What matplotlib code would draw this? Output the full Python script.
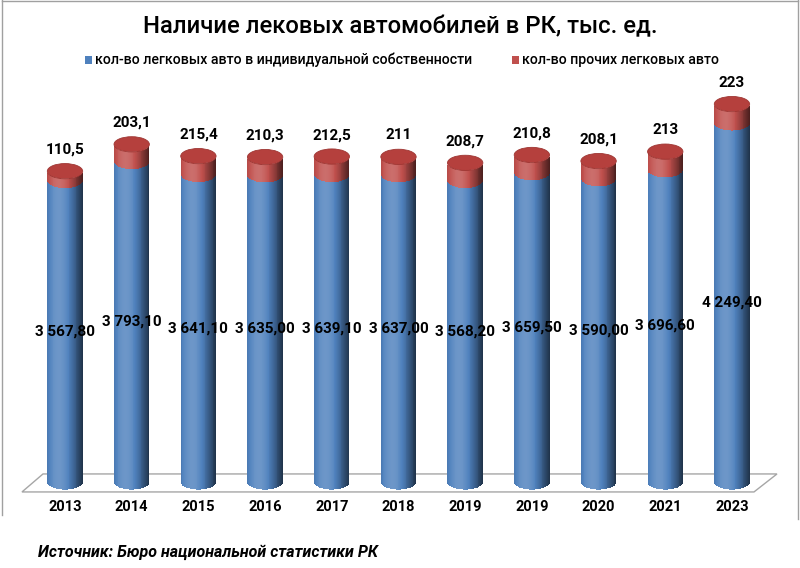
import numpy as np
import matplotlib.pyplot as plt
from matplotlib.patches import Ellipse, Polygon, Rectangle
from matplotlib.lines import Line2D
from matplotlib.colors import to_rgb

# data
years = ['2013', '2014', '2015', '2016', '2017', '2018', '2019', '2019', '2020', '2021', '2023']
individual = [3567.80, 3793.10, 3641.10, 3635.00, 3639.10, 3637.00, 3568.20, 3659.50, 3590.00, 3696.60, 4249.40]
other = [110.5, 203.1, 215.4, 210.3, 212.5, 211, 208.7, 210.8, 208.1, 213, 223]

title = 'Наличие лековых автомобилей в РК, тыс. ед.'
legend_labels = ['кол-во легковых авто в индивидуальной собственности', 'кол-во прочих легковых авто']
source = 'Источник: Бюро национальной статистики РК'

BLUE = '#4F81BD'
RED = '#C0504D'
plt.rcParams['font.family'] = ['Roboto', 'DejaVu Sans']


def shade(color, f):
    c = np.array(to_rgb(color))
    if f >= 1:
        return tuple(c + (1 - c) * (f - 1))
    return tuple(c * f)


def cylinder_part(ax, x, bottom, height, color, w=0.53, eh=180, n=40):
    edges = np.linspace(-1, 1, n + 1)
    mids = (edges[:-1] + edges[1:]) / 2
    for t, l, r in zip(mids, edges[:-1], edges[1:]):
        sag = eh / 2 * np.sqrt(max(0.0, 1 - t * t))
        f = 0.62 + 0.55 * np.cos((t + 0.35) * np.pi / 2.1)
        ax.bar(x + t * w / 2, height, width=(r - l) * w / 2 * 1.05,
               bottom=bottom - sag, color=shade(color, f), linewidth=0)


fig = plt.figure(figsize=(8, 5.68), dpi=100)
ax = fig.add_axes([0, 0, 1, 1])
ax.set_xlim(-0.9745, 11.02)
ax.set_ylim(-1018, 5704)
ax.axis('off')

xs = np.arange(len(years))

# floor
floor = Polygon([(xs[0] - 0.645, -118), (xs[-1] + 0.33, -118),
                 (xs[-1] + 0.675, 95), (xs[0] - 0.33, 95)],
                closed=True, facecolor='white', edgecolor='#A6A6A6', lw=1)
ax.add_patch(floor)

eh = 180
w = 0.53
for x, yr, b, r in zip(xs, years, individual, other):
    cylinder_part(ax, x, 0, b, BLUE, w, eh)
    cylinder_part(ax, x, b, r, RED, w, eh)
    ax.add_patch(Ellipse((x, b + r), w, eh, facecolor='#B5403D',
                         edgecolor='#9E3633', lw=0.6, zorder=3))
    ax.text(x, b / 2, f'{b:,.2f}'.replace(',', ' ').replace('.', ','),
            ha='center', va='center', fontsize=11, fontweight='bold', zorder=4)
    ax.text(x, b + r + eh / 2 + 80, f'{r:g}'.replace('.', ','),
            ha='center', va='bottom', fontsize=11, fontweight='bold', zorder=4)
    ax.text(x, -296, yr, ha='center', va='center', fontsize=10.5, fontweight='bold')

fig.text(0.5, 0.952, title, ha='center', va='center', fontsize=17.2, fontweight='medium')

# legend
fig.patches.append(Rectangle((0.106, 0.888), 0.009, 0.014, transform=fig.transFigure,
                             facecolor=BLUE, edgecolor='none'))
fig.text(0.119, 0.895, legend_labels[0], ha='left', va='center', fontsize=10.2, fontweight='medium')
fig.patches.append(Rectangle((0.640, 0.888), 0.009, 0.014, transform=fig.transFigure,
                             facecolor=RED, edgecolor='none'))
fig.text(0.653, 0.895, legend_labels[1], ha='left', va='center', fontsize=10.2, fontweight='medium')

fig.text(0.047, 0.028, source, ha='left', va='center', fontsize=11.5,
         fontweight='bold', fontstyle='italic')

# chart border (open at the bottom)
for xd, yd in [((0.002, 0.002), (0.094, 1.0)), ((0.002, 0.998), (0.999, 0.999)),
               ((0.998, 0.998), (0.086, 1.0))]:
    fig.lines.append(Line2D(xd, yd, transform=fig.transFigure, color='#A0A0A0', lw=1))

fig.savefig('out.png', dpi=100, facecolor='white')
